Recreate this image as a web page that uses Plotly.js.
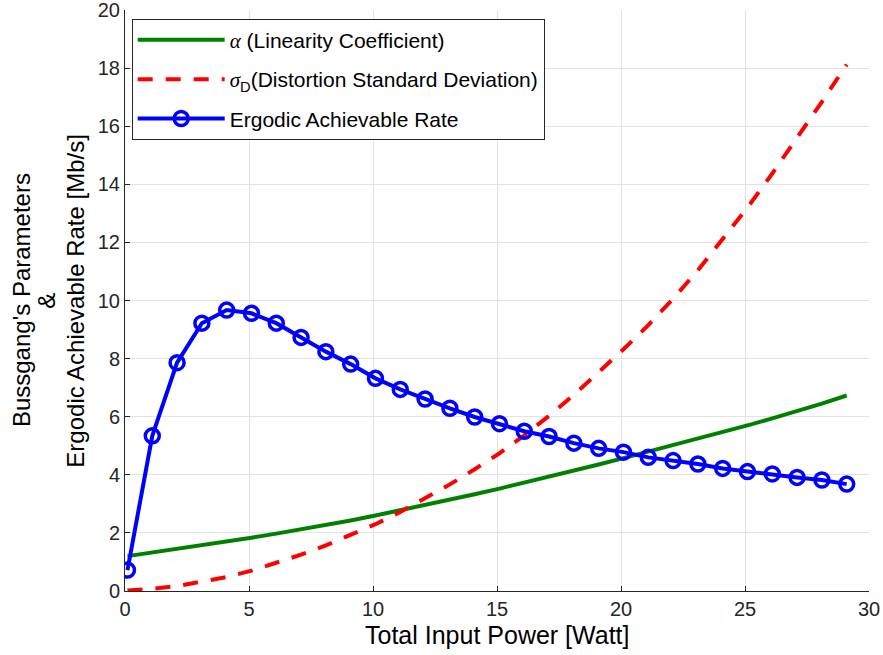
<!DOCTYPE html>
<html>
<head>
<meta charset="utf-8">
<script src="https://cdn.plot.ly/plotly-3.0.1.min.js"></script>
<style>html,body{margin:0;padding:0;background:#fff;}#chart{width:883px;height:655px;}</style>
</head>
<body>
<div id="chart"></div>
<script>
// Total input power [Watt]
const power = [0.1, 1.1, 2.1, 3.1, 4.1, 5.1, 6.1, 7.1, 8.1, 9.1, 10.1, 11.1, 12.1, 13.1, 14.1,
               15.1, 16.1, 17.1, 18.1, 19.1, 20.1, 21.1, 22.1, 23.1, 24.1, 25.1, 26.1, 27.1, 28.1, 29.1];
// alpha (Linearity Coefficient)
const alphaCoef = [1.20, 1.32, 1.445, 1.57, 1.70, 1.835, 1.975, 2.12, 2.27, 2.43, 2.60, 2.775, 2.955, 3.14, 3.33,
                   3.525, 3.725, 3.93, 4.14, 4.355, 4.575, 4.795, 5.015, 5.24, 5.47, 5.70, 5.94, 6.19, 6.45, 6.73];
// sigma_D (Distortion Standard Deviation)
const sigmaD = [0.02, 0.07, 0.17, 0.31, 0.48, 0.70, 0.96, 1.25, 1.57, 1.92, 2.30, 2.72, 3.18, 3.67, 4.19,
                4.74, 5.36, 6.03, 6.75, 7.52, 8.32, 9.15, 10.06, 11.04, 12.10, 13.20, 14.37, 15.59, 16.84, 18.12];
// Ergodic Achievable Rate [Mb/s]
const rate = [0.72, 5.34, 7.86, 9.22, 9.67, 9.56, 9.22, 8.73, 8.24, 7.81, 7.32, 6.94, 6.61, 6.29, 5.99,
              5.76, 5.50, 5.32, 5.09, 4.91, 4.78, 4.60, 4.49, 4.37, 4.22, 4.11, 4.03, 3.91, 3.82, 3.68];

const xTicks = [0, 5, 10, 15, 20, 25, 30];
const yTicks = [0, 2, 4, 6, 8, 10, 12, 14, 16, 18, 20];
const xTitle = 'Total Input Power [Watt]';
const yTitleLines = ["Bussgang's Parameters", '&', 'Ergodic Achievable Rate [Mb/s]'];

const FONT = 'Liberation Sans, Arial, sans-serif';
const SERIF = "font-family:'Liberation Serif',serif";

const traces = [
  {
    x: power, y: alphaCoef, type: 'scatter', mode: 'lines',
    name: "<span style=\"" + SERIF + "\"><i>α</i></span> (Linearity Coefficient)",
    line: {color: '#008000', width: 4},
    legendgroup: 'a'
  },
  {
    x: power, y: sigmaD, type: 'scatter', mode: 'lines',
    name: "<span style=\"" + SERIF + "\"><i>σ</i></span><sub>D</sub>(Distortion Standard Deviation)",
    line: {color: '#ff0000', width: 4, dash: '15px,13px'},
    legendgroup: 'b'
  },
  {
    x: power, y: rate, type: 'scatter', mode: 'lines+markers',
    name: 'Ergodic Achievable Rate',
    line: {color: '#0000ff', width: 4},
    marker: {symbol: 'circle-open', size: 14, color: '#0000ff', line: {color: '#0000ff', width: 3.5}},
    legendgroup: 'c'
  }
];

const axisFont = {family: FONT, size: 20, color: '#262626'};

const annotations = [
  {text: xTitle, xref: 'paper', yref: 'paper', x: 0.5, y: -0.076, xanchor: 'center', yanchor: 'middle',
   showarrow: false, font: {family: FONT, size: 25, color: '#000'}},
  {text: yTitleLines[0], xref: 'paper', yref: 'paper', x: -0.139, y: 0.5, xanchor: 'center', yanchor: 'middle',
   textangle: -90, showarrow: false, font: {family: FONT, size: 24, color: '#000'}},
  {text: yTitleLines[1], xref: 'paper', yref: 'paper', x: -0.106, y: 0.5, xanchor: 'center', yanchor: 'middle',
   textangle: -90, showarrow: false, font: {family: FONT, size: 24, color: '#000'}},
  {text: yTitleLines[2], xref: 'paper', yref: 'paper', x: -0.067, y: 0.5, xanchor: 'center', yanchor: 'middle',
   textangle: -90, showarrow: false, font: {family: FONT, size: 24, color: '#000'}}
];

const layout = {
  width: 883, height: 655,
  margin: {l: 125, r: 14, t: 10, b: 64},
  paper_bgcolor: '#ffffff', plot_bgcolor: '#ffffff',
  font: {family: FONT, color: '#000'},
  showlegend: true,
  legend: {
    x: 0.009, y: 0.985, xanchor: 'left', yanchor: 'top',
    bgcolor: '#ffffff', bordercolor: '#262626', borderwidth: 1,
    font: {family: FONT, size: 21, color: '#000'},
    traceorder: 'grouped', tracegroupgap: 9, itemwidth: 87
  },
  annotations: annotations,
  xaxis: {
    range: [0, 30], tickvals: xTicks, ticktext: xTicks.map(String),
    showgrid: true, gridcolor: '#e3e3e3', gridwidth: 1,
    zeroline: false, showline: true, linecolor: '#262626', linewidth: 1,
    ticks: 'inside', ticklen: 5, tickcolor: '#262626',
    tickfont: axisFont, ticklabeloverflow: 'allow'
  },
  yaxis: {
    range: [0, 20], tickvals: yTicks, ticktext: yTicks.map(String),
    showgrid: true, gridcolor: '#e3e3e3', gridwidth: 1,
    zeroline: false, showline: true, linecolor: '#262626', linewidth: 1,
    ticks: 'inside', ticklen: 5, tickcolor: '#262626',
    tickfont: axisFont, ticklabeloverflow: 'allow'
  }
};

Plotly.newPlot('chart', traces, layout, {displayModeBar: false, staticPlot: true});
</script>
</body>
</html>
